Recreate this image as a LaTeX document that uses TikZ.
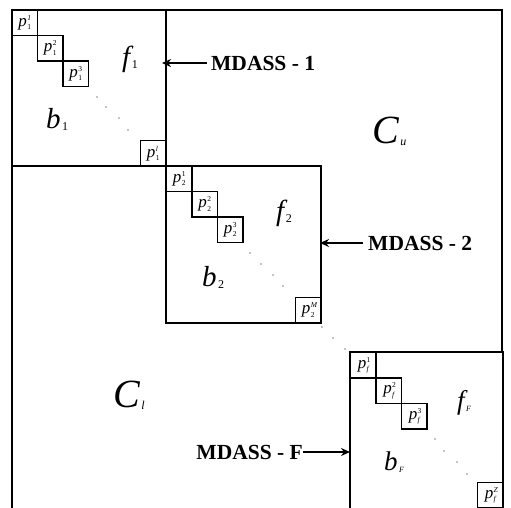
\documentclass[tikz,border=0pt]{standalone}
\usepackage{fontspec}
\setmainfont{Liberation Serif}
\usetikzlibrary{arrows.meta}
\newcommand\pbox[2]{{\fontsize{17}{17}\selectfont\itshape p}\kern0.4pt\makebox[0pt][l]{\raisebox{6pt}{\fontsize{7.5}{7.5}\selectfont #2}}\raisebox{-3.5pt}{\fontsize{7.5}{7.5}\selectfont #1}}
\newcommand\biglbl[3]{{\fontsize{#3}{#3}\selectfont\itshape #1}\kern1.5pt\raisebox{-2pt}{\fontsize{12}{12}\selectfont #2}}
\tikzset{
  blk/.style={draw, line width=1.5pt, inner sep=0pt, outer sep=0pt},
  pb/.style={draw, line width=1.5pt, inner sep=0pt, outer sep=0pt, minimum width=25.5pt, minimum height=25.5pt, fill=white},
  mdass/.style={font=\fontsize{21.5}{21.5}\selectfont\bfseries, inner sep=0pt},
  arr/.style={line width=1.5pt, -{Stealth[length=9pt,width=8pt]}},
  dotm/.style={circle, fill=black, inner sep=0pt, minimum size=1.3pt},
  lbl/.style={inner sep=0pt}
}
\begin{document}
\begin{tikzpicture}[x=1pt,y=-1pt]
\useasboundingbox (0,0) rectangle (511,507);
\clip (0,0) rectangle (511,507);
% outer frame
\draw[line width=1.5pt] (12,515) -- (12,10) -- (502,10) -- (502,352);
% blocks
\node[blk, minimum width=154pt, minimum height=156pt] (b1) at (89,88) {};
\node[blk, minimum width=155pt, minimum height=157pt] (b2) at (243.5,244.5) {};
\node[blk, minimum width=153pt, minimum height=157pt] (bF) at (426.5,430.5) {};
% block 1 boxes
\node[pb] (p11) at (24.75,22.75) {\pbox{1}{\itshape 1}};
\node[pb] (p12) at (50.25,48.25) {\pbox{1}{2}};
\node[pb] (p13) at (75.75,73.75) {\pbox{1}{3}};
\node[pb] (p1l) at (153.25,153.25) {\pbox{1}{\itshape l}};
% block 2 boxes
\node[pb] (p21) at (179.25,178.75) {\pbox{2}{1}};
\node[pb] (p22) at (204.75,204.25) {\pbox{2}{2}};
\node[pb] (p23) at (230.25,229.75) {\pbox{2}{3}};
\node[pb] (p2M) at (308.25,310.25) {\pbox{2}{\itshape M}};
% block F boxes
\node[pb] (pF1) at (363.25,365.25) {\pbox{\itshape f}{1}};
\node[pb] (pF2) at (388.75,390.75) {\pbox{\itshape f}{2}};
\node[pb] (pF3) at (414.25,416.25) {\pbox{\itshape f}{3}};
\node[pb] (pFZ) at (490.25,495.25) {\pbox{\itshape f}{\itshape Z}};
% dots
\foreach \x/\y [count=\i] in {97/97,106/107,119/118,128/130,
  250/253,261/264,273/275,283/286,
  322/327,333/338,345/349,
  435/439,444/451,457/462,467/474}
  \node[dotm] (d\i) at (\x,\y) {};
% labels
\node[lbl, anchor=base west] (f1) at (122,66) {\biglbl{f}{1}{29}};
\node[lbl, anchor=base west] (bb1) at (46,128) {\biglbl{b}{1}{29}};
\node[lbl, anchor=base west] (f2) at (276,220) {\biglbl{f}{2}{29}};
\node[lbl, anchor=base west] (bb2) at (202,286) {\biglbl{b}{2}{29}};
\node[lbl, anchor=base west] (fF) at (457,409) {\biglbl{f}{\fontsize{8}{8}\selectfont\itshape F}{27}};
\node[lbl, anchor=base west] (bbF) at (384,470) {\biglbl{b}{\fontsize{8}{8}\selectfont\itshape F}{27}};
\node[lbl, anchor=base west] (Cu) at (372,143) {\biglbl{C}{\itshape u}{40}};
\node[lbl, anchor=base west] (Cl) at (113,407) {\biglbl{C}{\itshape l}{40}};
% MDASS labels and arrows
\node[mdass, anchor=west] (m1) at (211,63) {MDASS - 1};
\node[mdass, anchor=west] (m2) at (368,243) {MDASS - 2};
\node[mdass, anchor=east] (mF) at (303,452) {MDASS - F};
\draw[arr] ([xshift=-4pt]m1.west) -- ([xshift=-4pt]m1.west -| b1.east);
\draw[arr] ([xshift=-5pt]m2.west) -- ([xshift=-1pt]m2.west -| b2.east);
\draw[arr] (mF.east) -- (mF.east -| bF.west);
\end{tikzpicture}
\end{document}
